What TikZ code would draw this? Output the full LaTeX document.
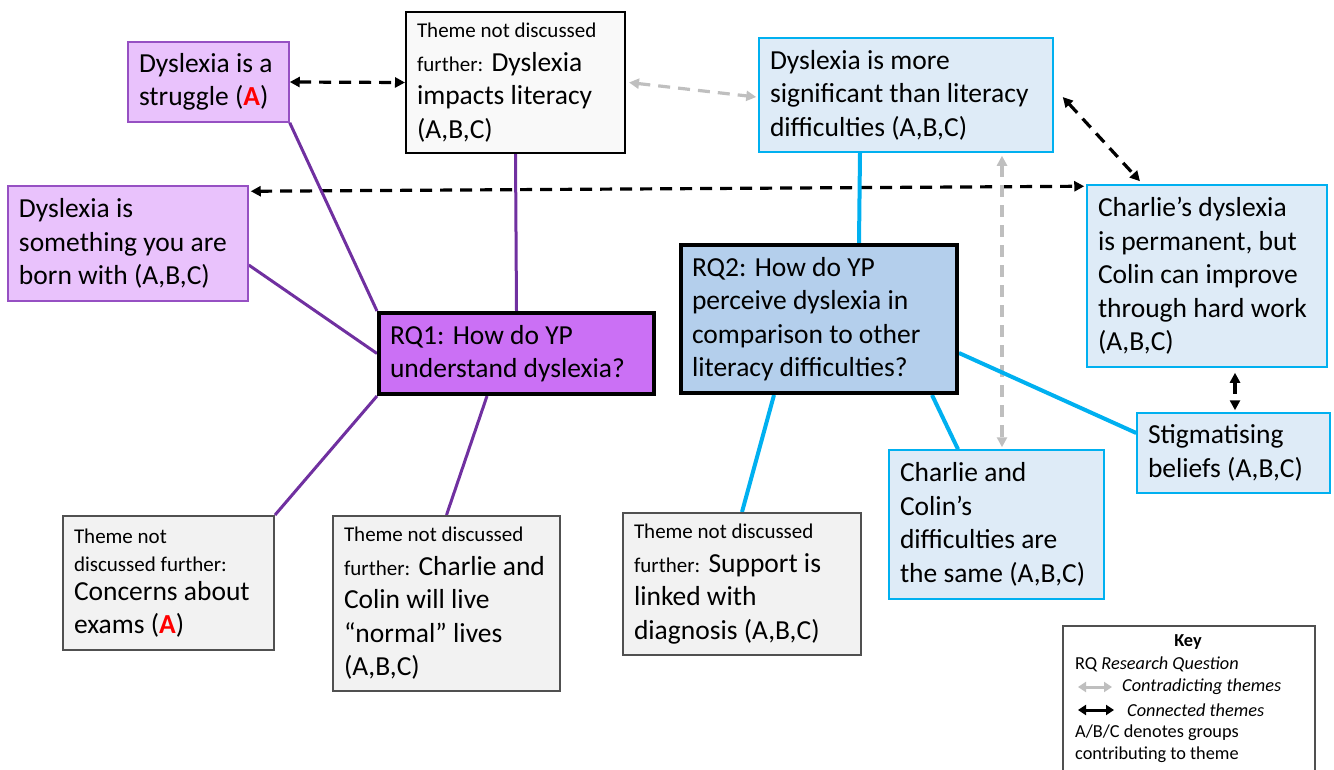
\documentclass[tikz,border=0pt]{standalone}
\usepackage{fontspec}
\setmainfont{Carlito}
\usetikzlibrary{arrows.meta,calc}
\definecolor{purpfill}{RGB}{233,194,252}
\definecolor{purpline}{RGB}{112,48,160}
\definecolor{purpborder}{RGB}{150,80,195}
\definecolor{rqonefill}{RGB}{203,112,245}
\definecolor{rqtwofill}{RGB}{180,207,236}
\definecolor{bluefill}{RGB}{222,235,247}
\definecolor{cyanline}{RGB}{0,176,240}
\definecolor{grayfill}{RGB}{242,242,242}
\definecolor{paler}{RGB}{249,249,249}
\definecolor{grayborder}{RGB}{80,80,80}
\definecolor{contragray}{RGB}{191,191,191}
\definecolor{redA}{RGB}{255,0,0}
\newcommand\smf{\fontsize{21}{26}\selectfont}
\newcommand\bigf{\fontsize{27.5}{33.5}\selectfont}
\newcommand\keyf{\fontsize{18.3}{22.5}\selectfont}
\newcommand\redA{\textcolor{redA}{\textbf{A}}}
\pgfdeclarelayer{bg}
\pgfsetlayers{bg,main}
\tikzset{
  sz/.code 2 args={\pgfmathsetmacro\twd{#1-22}\edef\next{\noexpand\tikzset{minimum width=#1pt, minimum height=#2pt, text width=\twd pt}}\next},
  box/.style={rectangle, align=left, inner xsep=11pt, inner ysep=0pt, font=\bigf, line width=1.5pt,
    execute at begin node={\spaceskip=0pt\xspaceskip=0pt}},
  pbox/.style={box, fill=purpfill, draw=purpborder},
  bbox/.style={box, fill=bluefill, draw=cyanline},
  gbox/.style={box, fill=grayfill, draw=grayborder, line width=2pt},
  rqbox/.style={box, draw=black, line width=4pt},
  plink/.style={draw=purpline, line width=3pt},
  clink/.style={draw=cyanline, line width=4pt},
  conn/.style={draw=black, line width=3.2pt, dash pattern=on 12pt off 8pt, {Triangle[length=10pt,width=10pt]}-{Triangle[length=10pt,width=10pt]}},
  contra/.style={conn, draw=contragray},
  keyarrow/.style={line width=3pt, {Triangle[length=8pt,width=10pt]}-{Triangle[length=8pt,width=10pt]}},
  keytxt/.style={font=\keyf, inner sep=0pt}
}
\begin{document}
\begin{tikzpicture}[x=1pt,y=-1pt]
\useasboundingbox (0,0) rectangle (1334,769);

\node[pbox, sz={161}{80}] (b1) at (208.5,82) {Dyslexia is a\\struggle (\redA)};
\node[gbox, draw=black, fill=paler, sz={219}{141}] (b2) at (515.5,82.5) {{\smf Theme not discussed}\\{\smf further:} Dyslexia\\impacts literacy\\(A,B,C)};
\node[bbox, sz={294}{114}] (b3) at (906,95) {Dyslexia is more\\significant than literacy\\difficulties (A,B,C)};
\node[pbox, sz={240}{115}] (b4) at (128,243.5) {Dyslexia is\\something you are\\born with (A,B,C)};
\node[rqbox, fill=rqonefill, sz={275}{81}] (rq1) at (516.5,353.5) {RQ1: How do YP\\understand dyslexia?};
\node[rqbox, fill=rqtwofill, sz={276}{148}] (rq2) at (819,319) {RQ2: How do YP\\perceive dyslexia in\\comparison to other\\literacy difficulties?};
\node[bbox, sz={240}{182}] (b7) at (1207,276) {Charlie’s dyslexia\\is permanent, but\\Colin can improve\\through hard work\\(A,B,C)};
\node[bbox, sz={193}{80}] (b8) at (1233.5,453) {Stigmatising\\beliefs (A,B,C)};
\node[bbox, sz={215}{149}] (b9) at (996.5,524.5) {Charlie and\\Colin’s\\difficulties are\\the same (A,B,C)};
\node[gbox, sz={238}{142}] (b10) at (742,584) {{\smf Theme not discussed}\\{\smf further:} Support is\\linked with\\diagnosis (A,B,C)};
\node[gbox, sz={227}{175}] (b11) at (446.5,603.5) {{\smf Theme not discussed}\\{\smf further:} Charlie and\\Colin will live\\“normal” lives\\(A,B,C)};
\node[gbox, sz={211}{134}] (b12) at (168.5,583) {{\smf Theme not}\\[-5pt]{\smf discussed further:}\\[-5pt]Concerns about\\exams (\redA)};

\begin{pgfonlayer}{bg}
\draw[conn] (b1.east) -- (b2.west);
\draw[conn] ($(b4.north east)+(2,6)$) -- ($(b7.north west)+(-2,2)$);
\draw[conn] ($(b3.east)+(9,2)$) -- ($(b7.north)+(-67,-3)$);
\draw[conn] ($(b7.south)+(28,5)$) -- ($(b8.north)+(1.5,-2)$);
\draw[contra] ($(b2.east)+(3,0)$) -- ($(b3.west)+(-2,2)$);
\draw[contra] ($(b3.south)+(96,3)$) -- ($(b9.north)+(5.5,-2)$);
\draw[plink] (b1.south east) -- (rq1.north west);
\draw[plink] (b2.south) -- (rq1.north);
\draw[plink] ($(b4.east)+(0,21.5)$) -- (rq1.west);
\draw[plink] (rq1.south west) -- (b12.north east);
\draw[plink] ($(rq1.south)+(-29.5,0)$) -- (b11.north);
\draw[clink] ($(b3.south)+(-46,0)$) -- ($(rq2.north)+(40,0)$);
\draw[clink] ($(rq2.east)+(0,34)$) -- ($(b8.west)+(0,-20)$);
\draw[clink] ($(rq2.south)+(113,0)$) -- ($(b9.north)+(-38.5,0)$);
\draw[clink] ($(rq2.south)+(-45,0)$) -- (b10.north);
\end{pgfonlayer}

% key
\node[draw=grayborder, line width=1.5pt, fill=white, minimum width=252pt, minimum height=170pt, anchor=north west, inner sep=0pt] (key) at (1062,625) {};
\node[keytxt, font=\keyf\bfseries] (kt) at (1188,642) {Key};
\node[keytxt, anchor=west] (k1) at (1075,664) {RQ \textit{Research Question}};
\draw[keyarrow, draw=contragray] (1078,687) -- (1112,687);
\node[keytxt, anchor=west] (k2) at (1122,687) {\textit{Contradicting themes}};
\draw[keyarrow, draw=black] (1078,710) -- (1114,710);
\node[keytxt, anchor=west] (k3) at (1127,710) {\textit{Connected themes}};
\node[keytxt, anchor=west] (k4) at (1075,733) {A/B/C denotes groups};
\node[keytxt, anchor=west] (k5) at (1075,755) {contributing to theme};
\end{tikzpicture}
\end{document}
